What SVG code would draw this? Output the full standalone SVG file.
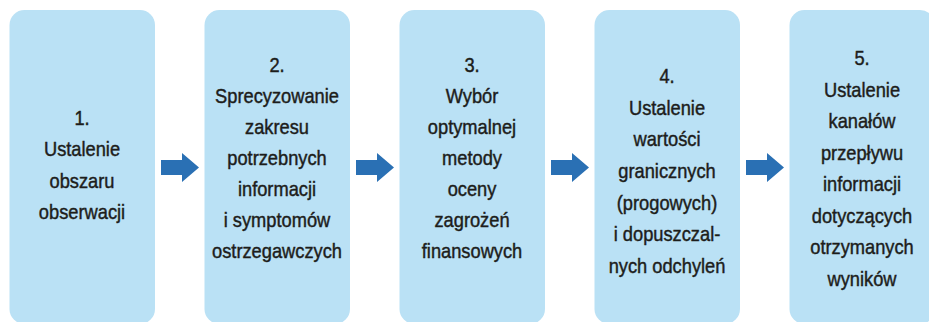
<svg xmlns="http://www.w3.org/2000/svg" width="929" height="322" viewBox="0 0 929 322">
<style>
.box{fill:#bae1f5}
.arr{fill:#2a70b4}
.t{font-family:"Liberation Sans","DejaVu Sans",sans-serif;font-size:21px;fill:#1d1d1b;stroke:#1d1d1b;stroke-width:0.45;text-anchor:middle}
</style>
<rect width="929" height="322" fill="#ffffff"/>
<g id="node1">
<rect class="box" x="9.5" y="10" width="145.5" height="314" rx="15"/>
<g transform="translate(82,0) scale(0.87,1)">
<text class="t"><tspan x="0" y="125">1.</tspan><tspan x="0" y="156.5">Ustalenie</tspan><tspan x="0" y="188">obszaru</tspan><tspan x="0" y="219.5">obserwacji</tspan></text>
</g>
</g>
<g id="node2">
<rect class="box" x="204.5" y="10" width="145.5" height="314" rx="15"/>
<g transform="translate(277,0) scale(0.87,1)">
<text class="t"><tspan x="0" y="72">2.</tspan><tspan x="0" y="103">Sprecyzowanie</tspan><tspan x="0" y="134">zakresu</tspan><tspan x="0" y="165">potrzebnych</tspan><tspan x="0" y="196">informacji</tspan><tspan x="0" y="227">i symptomów</tspan><tspan x="0" y="258">ostrzegawczych</tspan></text>
</g>
</g>
<g id="node3">
<rect class="box" x="399.5" y="10" width="145.5" height="314" rx="15"/>
<g transform="translate(472,0) scale(0.87,1)">
<text class="t"><tspan x="0" y="72">3.</tspan><tspan x="0" y="103">Wybór</tspan><tspan x="0" y="134">optymalnej</tspan><tspan x="0" y="165">metody</tspan><tspan x="0" y="196">oceny</tspan><tspan x="0" y="227">zagrożeń</tspan><tspan x="0" y="258">finansowych</tspan></text>
</g>
</g>
<g id="node4">
<rect class="box" x="594.5" y="10" width="145.5" height="314" rx="15"/>
<g transform="translate(667,0) scale(0.87,1)">
<text class="t"><tspan x="0" y="83">4.</tspan><tspan x="0" y="115">Ustalenie</tspan><tspan x="0" y="146.5">wartości</tspan><tspan x="0" y="178">granicznych</tspan><tspan x="0" y="210">(progowych)</tspan><tspan x="0" y="241.5">i dopuszczal-</tspan><tspan x="0" y="273">nych odchyleń</tspan></text>
</g>
</g>
<g id="node5">
<rect class="box" x="789.5" y="10" width="145.5" height="314" rx="15"/>
<g transform="translate(862,0) scale(0.87,1)">
<text class="t"><tspan x="0" y="65.5">5.</tspan><tspan x="0" y="97">Ustalenie</tspan><tspan x="0" y="128.5">kanałów</tspan><tspan x="0" y="160">przepływu</tspan><tspan x="0" y="191.5">informacji</tspan><tspan x="0" y="223">dotyczących</tspan><tspan x="0" y="254.5">otrzymanych</tspan><tspan x="0" y="286">wyników</tspan></text>
</g>
</g>
<g id="connectors">
<path id="a1" class="arr" d="M161,160 H182 V153 L199,167.5 L182,182 V175 H161 Z"/>
<path id="a2" class="arr" d="M356,160 H377 V153 L394,167.5 L377,182 V175 H356 Z"/>
<path id="a3" class="arr" d="M551,160 H572 V153 L589,167.5 L572,182 V175 H551 Z"/>
<path id="a4" class="arr" d="M746,160 H767 V153 L784,167.5 L767,182 V175 H746 Z"/>
</g>
</svg>
